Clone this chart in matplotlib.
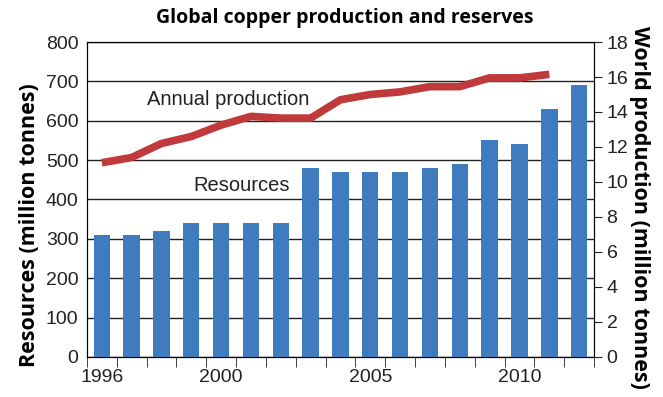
import numpy as np
import matplotlib.pyplot as plt
from matplotlib.ticker import FixedLocator, MultipleLocator

# Copper data, 1996-2012
years = list(range(1996, 2013))
resources = [310, 310, 320, 340, 340, 340, 340, 480, 470, 470, 470, 480, 490, 550, 540, 630, 690]
prod_years = list(range(1996, 2012))
production = [11.1, 11.4, 12.2, 12.6, 13.25, 13.75, 13.65, 13.65, 14.7, 15.0, 15.15, 15.45, 15.45, 15.95, 15.95, 16.15]
year_labels = {1996: "1996", 2000: "2000", 2005: "2005", 2010: "2010"}

plain = ['Liberation Sans', 'DejaVu Sans']
bold = ['Open Sans', 'DejaVu Sans']

fig = plt.figure(figsize=(6.63, 3.97), dpi=100)
ax = fig.add_axes([0.131, 0.1008, 0.765, 0.7934])

x = np.arange(len(years))
ax.bar(x, resources, width=0.55, color='#3f7cbf', zorder=3)
ax.set_ylim(0, 800)
ax.set_xlim(-0.5, len(years) - 0.5)
ax.yaxis.set_major_locator(MultipleLocator(100))
ax.grid(axis='y', color='#222222', linewidth=1.0, zorder=0)
ax.tick_params(axis='y', length=0, labelsize=14, pad=6)

# year labels under bar centres, ticks on category boundaries
ax.set_xticks([years.index(y) for y in year_labels])
ax.set_xticklabels(list(year_labels.values()))
ax.tick_params(axis='x', which='major', length=0, labelsize=14, pad=9)
ax.xaxis.set_minor_locator(FixedLocator(np.arange(-0.5, len(years), 1.0)))
ax.tick_params(axis='x', which='minor', length=7, direction='out', color='#222222')

for s in ax.spines.values():
    s.set_color('#222222')

ax.set_ylabel('Resources (million tonnes)', fontsize=15.5, fontweight='bold', family=bold, va='center')
ax.yaxis.set_label_coords(-0.113, 0.42)

ax2 = ax.twinx()
px = [years.index(y) for y in prod_years]
ax2.plot(px, production, color='#c0393b', linewidth=5.5, solid_capstyle='butt', zorder=4)
ax2.set_ylim(0, 18)
ax2.yaxis.set_major_locator(MultipleLocator(2))
ax2.tick_params(axis='y', length=6, direction='out', labelsize=14, color='#222222', pad=3)
ax2.set_ylabel('World production (million tonnes)', fontsize=15.5, fontweight='bold',
               family=bold, rotation=270, va='center')
ax2.yaxis.set_label_coords(1.09, 0.476)

for lab in ax.get_xticklabels() + ax.get_yticklabels() + ax2.get_yticklabels():
    lab.set_family(plain)
    lab.set_color('#222222')

ax.text(4.25, 655, 'Annual production', fontsize=14.5, family=plain, ha='center', va='center', color='#222222')
ax.text(4.7, 436, 'Resources', fontsize=14.5, family=plain, ha='center', va='center', color='#222222')

fig.suptitle('Global copper production and reserves', x=0.52, y=0.98, fontsize=14,
             fontweight='bold', family=bold)

fig.savefig('out.png', dpi=100)
